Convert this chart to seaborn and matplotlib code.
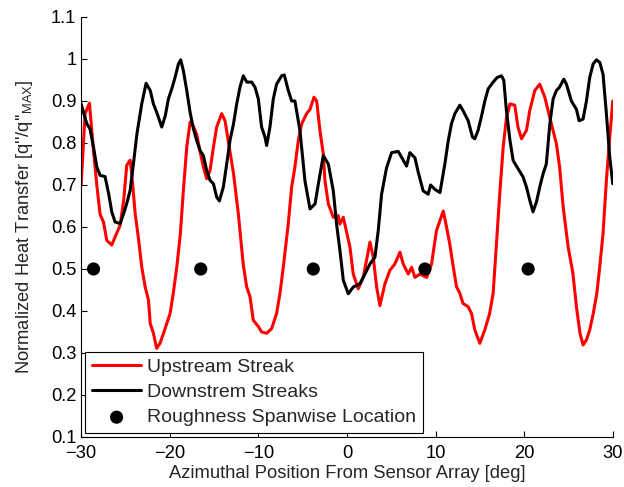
import matplotlib
matplotlib.use("Agg")
import matplotlib.pyplot as plt
import seaborn as sns
import pandas as pd

# Upstream streak (red) heat-transfer profile
upstream_x = [-30, -29.55, -29.36, -29.06, -28.6, -28.23, -27.86, -27.48, -27.1, -26.54,
              -26.17, -25.6, -25.2, -24.85, -24.47, -24.29, -23.9, -23.5, -23.16, -22.78,
              -22.4, -22.2, -21.84, -21.47, -21.1, -20.7, -20.34, -19.96, -19.6, -19.2,
              -18.8, -18.46, -18.08, -17.7, -17.33, -16.95, -16.58, -16.2, -15.83, -15.45,
              -15.07, -14.7, -14.14, -13.76, -13.4, -12.8, -12.26, -11.7, -11.32, -10.94,
              -10.57, -10.0, -9.63, -9.06, -8.5, -7.94, -7.56, -7.18, -6.62, -6.24,
              -5.87, -5.49, -5.1, -4.55, -4.17, -3.72, -3.42, -3.05, -2.67, -2.48,
              -2.1, -1.54, -0.98, -0.79, -0.41, 0.34, 0.71, 1.28, 1.84, 2.6,
              2.97, 3.35, 3.72, 4.29, 4.85, 5.41, 5.98, 6.35, 6.92, 7.3,
              7.67, 8.23, 9.0, 9.55, 10.1, 10.87, 11.24, 11.6, 12.0, 12.36,
              12.74, 13.1, 13.68, 14.06, 14.43, 15.0, 15.56, 16.1, 16.5, 16.9,
              17.25, 17.63, 18.0, 18.4, 18.94, 19.3, 19.7, 20.26, 20.63, 21.2,
              21.76, 22.33, 22.9, 23.64, 24.0, 24.4, 24.96, 25.5, 25.9, 26.3,
              26.65, 27.03, 27.4, 27.8, 28.2, 28.53, 28.9, 29.28, 29.66, 30]
upstream_y = [0.70, 0.87, 0.88, 0.895, 0.78, 0.70, 0.63, 0.612, 0.568, 0.557,
              0.576, 0.604, 0.663, 0.747, 0.759, 0.727, 0.632, 0.568, 0.505, 0.458,
              0.426, 0.37, 0.347, 0.311, 0.323, 0.347, 0.37, 0.394, 0.442, 0.505,
              0.584, 0.687, 0.79, 0.85, 0.84, 0.82, 0.78, 0.743, 0.715, 0.735,
              0.79, 0.838, 0.87, 0.853, 0.806, 0.727, 0.632, 0.51, 0.458, 0.434,
              0.378, 0.363, 0.35, 0.347, 0.358, 0.394, 0.442, 0.505, 0.608, 0.695,
              0.743, 0.806, 0.846, 0.87, 0.88, 0.909, 0.9, 0.83, 0.774, 0.71,
              0.655, 0.623, 0.627, 0.607, 0.623, 0.552, 0.488, 0.453, 0.48, 0.564,
              0.528, 0.457, 0.413, 0.465, 0.497, 0.512, 0.54, 0.512, 0.488, 0.504,
              0.48, 0.488, 0.48, 0.512, 0.591, 0.638, 0.6, 0.56, 0.505, 0.458,
              0.442, 0.418, 0.41, 0.394, 0.355, 0.323, 0.355, 0.394, 0.442, 0.568,
              0.68, 0.79, 0.86, 0.893, 0.89, 0.838, 0.81, 0.83, 0.877, 0.925,
              0.94, 0.909, 0.86, 0.798, 0.743, 0.648, 0.553, 0.49, 0.41, 0.347,
              0.319, 0.331, 0.355, 0.394, 0.442, 0.505, 0.584, 0.711, 0.814, 0.9]

# Downstream streaks (black) heat-transfer profile
downstream_x = [-30, -29.36, -29.0, -28.6, -28.23, -27.86, -27.3, -26.9, -26.54, -26.17,
                -25.6, -25.2, -24.85, -24.47, -24.1, -23.7, -23.16, -22.67, -22.2, -21.84,
                -21.47, -21.1, -20.9, -20.5, -20.15, -19.77, -19.4, -19.02, -18.76, -18.46,
                -18.08, -17.7, -17.33, -16.95, -16.58, -16.2, -15.83, -15.45, -15.07, -14.7,
                -14.4, -13.95, -13.57, -13.2, -12.8, -12.44, -12.07, -11.7, -11.3, -10.75,
                -10.38, -10.0, -9.63, -9.25, -9.06, -8.69, -8.31, -7.94, -7.37, -7.07,
                -6.62, -6.24, -5.87, -5.49, -5.3, -4.74, -4.17, -3.6, -3.23, -2.67,
                -2.1, -1.54, -1.17, -0.79, -0.41, 0.15, 0.71, 1.47, 2.03, 2.6,
                3.16, 3.53, 3.91, 4.47, 5.04, 5.79, 6.73, 7.1, 7.67, 8.05,
                8.6, 9.17, 9.44, 9.9, 10.5, 11.05, 11.43, 11.8, 12.18, 12.74,
                13.1, 13.68, 14.17, 14.43, 14.8, 15.2, 15.56, 15.94, 16.5, 16.95,
                17.44, 17.7, 18.0, 18.4, 18.76, 19.3, 19.88, 20.26, 20.63, 21.0,
                21.39, 21.76, 22.14, 22.5, 22.9, 23.27, 23.64, 24.0, 24.47, 24.77,
                25.33, 25.9, 26.2, 26.65, 27.03, 27.4, 27.78, 28.15, 28.53, 28.9,
                29.28, 29.66, 30]
downstream_y = [0.893, 0.846, 0.834, 0.79, 0.743, 0.723, 0.72, 0.68, 0.636, 0.612,
                0.608, 0.632, 0.656, 0.687, 0.75, 0.822, 0.893, 0.942, 0.925, 0.893,
                0.873, 0.85, 0.838, 0.865, 0.905, 0.929, 0.956, 0.988, 0.998, 0.972,
                0.925, 0.873, 0.834, 0.806, 0.782, 0.77, 0.735, 0.711, 0.703, 0.671,
                0.662, 0.695, 0.75, 0.806, 0.846, 0.893, 0.933, 0.96, 0.945, 0.945,
                0.933, 0.905, 0.838, 0.814, 0.794, 0.838, 0.905, 0.94, 0.96, 0.962,
                0.925, 0.9, 0.9, 0.853, 0.829, 0.71, 0.643, 0.655, 0.702, 0.77,
                0.75, 0.686, 0.607, 0.544, 0.473, 0.441, 0.457, 0.465, 0.488, 0.512,
                0.528, 0.591, 0.678, 0.741, 0.777, 0.78, 0.745, 0.777, 0.765, 0.73,
                0.686, 0.678, 0.7, 0.69, 0.682, 0.75, 0.805, 0.846, 0.87, 0.89,
                0.877, 0.853, 0.814, 0.81, 0.83, 0.865, 0.9, 0.929, 0.945, 0.956,
                0.96, 0.949, 0.877, 0.806, 0.758, 0.739, 0.719, 0.695, 0.664, 0.636,
                0.66, 0.695, 0.727, 0.75, 0.846, 0.905, 0.925, 0.933, 0.952, 0.94,
                0.9, 0.88, 0.853, 0.857, 0.9, 0.956, 0.988, 0.998, 0.992, 0.964,
                0.87, 0.766, 0.703]

# Spanwise positions of the roughness elements
roughness_x = [-28.6, -16.5, -3.8, 8.8, 20.45]
roughness_y = [0.5, 0.5, 0.5, 0.5, 0.5]

x_ticks = [-30, -20, -10, 0, 10, 20, 30]
x_tick_labels = ["\u221230", "\u221220", "\u221210", "0", "10", "20", "30"]
y_ticks = [0.1, 0.2, 0.3, 0.4, 0.5, 0.6, 0.7, 0.8, 0.9, 1.0, 1.1]
y_tick_labels = ["0.1", "0.2", "0.3", "0.4", "0.5", "0.6", "0.7", "0.8", "0.9", "1", "1.1"]

sns.set_theme(style="white")
plt.rcParams["font.family"] = ["Liberation Sans", "DejaVu Sans"]
plt.rcParams["mathtext.fontset"] = "custom"
plt.rcParams["mathtext.rm"] = "Liberation Sans"
plt.rcParams["mathtext.it"] = "Liberation Sans"

FS = 13.2
LEG_FS = 14

up = pd.DataFrame({"x": upstream_x, "y": upstream_y})
down = pd.DataFrame({"x": downstream_x, "y": downstream_y})
rough = pd.DataFrame({"x": roughness_x, "y": roughness_y})

fig = plt.figure(figsize=(6.24, 4.87), dpi=100)
ax = fig.add_axes([0.13, 0.1027, 0.852, 0.8624])

sns.lineplot(data=up, x="x", y="y", color="#ff0000", linewidth=2.2, sort=False,
             estimator=None, label="Upstream Streak", ax=ax)
sns.lineplot(data=down, x="x", y="y", color="black", linewidth=2.2, sort=False,
             estimator=None, label="Downstrem Streaks", ax=ax)
sns.scatterplot(data=rough, x="x", y="y", color="black", s=90, edgecolor="none",
                label="Roughness Spanwise Location", ax=ax, zorder=3)

ax.set_xlim(-30, 30)
ax.set_ylim(0.1, 1.1)
ax.set_xticks(x_ticks)
ax.set_xticklabels(x_tick_labels)
ax.set_yticks(y_ticks)
ax.set_yticklabels(y_tick_labels)

ax.set_xlabel("Azimuthal Position From Sensor Array [deg]", fontsize=FS, labelpad=2)
ax.set_ylabel("Normalized Heat Transfer [q''/q''$_{\\mathrm{MAX}}$]", fontsize=FS, labelpad=11)

for side in ("top", "right"):
    ax.spines[side].set_visible(False)
for side in ("left", "bottom"):
    ax.spines[side].set_color("black")
    ax.spines[side].set_linewidth(0.8)
ax.tick_params(axis="both", direction="in", length=4.5, width=0.8, labelsize=FS,
               colors="black", left=True, bottom=True)
ax.tick_params(axis="x", pad=6)
ax.tick_params(axis="y", pad=3.5)

leg = ax.legend(loc="lower left", fontsize=LEG_FS, frameon=True, fancybox=False,
                framealpha=1, edgecolor="black", handlelength=2.55,
                borderaxespad=0.2, borderpad=0.35, labelspacing=0.38,
                handletextpad=0.3, markerscale=1.0)
leg.get_frame().set_linewidth(0.8)

fig.savefig("out.png", dpi=100)
